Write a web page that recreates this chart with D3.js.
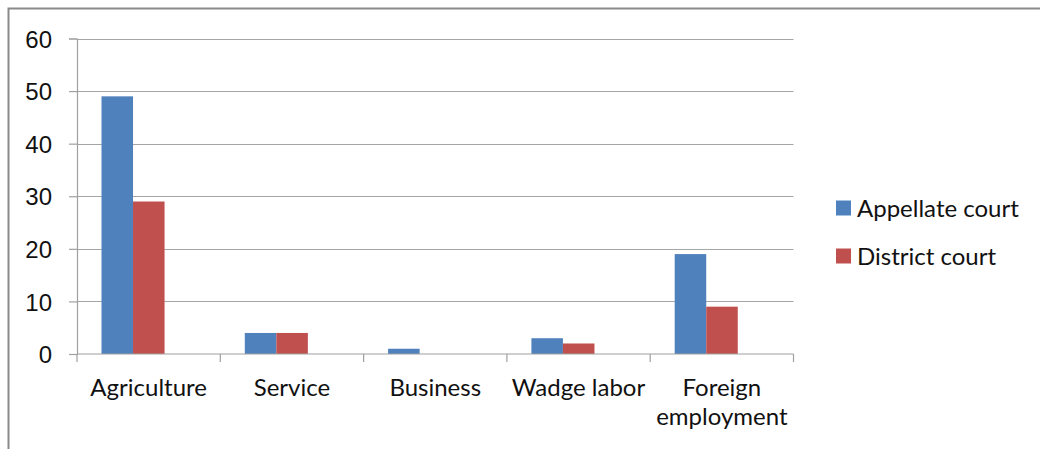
<!DOCTYPE html>
<html>
<head>
<meta charset="utf-8">
<script src="https://cdn.jsdelivr.net/npm/d3@7"></script>
<style>
  html, body { margin: 0; padding: 0; background: #fff; }
  svg { display: block; font-family: Lato, "Open Sans", sans-serif; }
</style>
</head>
<body>
<svg id="chart" width="1040" height="449"></svg>
<script>
// Occupation of respondents by court level
const categories = [["Agriculture"], ["Service"], ["Business"], ["Wadge labor"], ["Foreign", "employment"]];
const seriesNames = ["Appellate court", "District court"];
const appellate = [49, 4, 1, 3, 19];
const district = [29, 4, 0, 2, 9];
const yTicks = [0, 10, 20, 30, 40, 50, 60];
const colors = ["#4f81bd", "#c0504d"];

const svg = d3.select("#chart");
const W = 1040, H = 449;
const plot = { left: 77, right: 793.5, top: 38.5, bottom: 354 };
const FS = 24;

// outer frame (top and left edges visible)
svg.append("path")
  .attr("d", `M8.5,${H} V8.5 H${W}`)
  .attr("fill", "none").attr("stroke", "#8a8a8a").attr("stroke-width", 2);

const x = d3.scaleBand()
  .domain(d3.range(categories.length))
  .range([plot.left, plot.right])
  .paddingInner(0).paddingOuter(0);

// the bar pair sits left of the category centre, as in the source layout
const bw = x.bandwidth();
const inner = d3.scaleBand()
  .domain(d3.range(seriesNames.length))
  .range([bw * 0.171, bw * 0.171 + bw * 0.44])
  .paddingOuter(0).paddingInner(0);

const y = d3.scaleLinear().domain([0, 60]).range([plot.bottom, plot.top]);

// horizontal gridlines
svg.append("g")
  .selectAll("line")
  .data(yTicks.filter(d => d > 0))
  .join("line")
  .attr("x1", plot.left).attr("x2", plot.right)
  .attr("y1", d => Math.round(y(d)) + 0.5).attr("y2", d => Math.round(y(d)) + 0.5)
  .attr("stroke", "#a5a5a5").attr("stroke-width", 1.2);

// bars
const series = [appellate, district];
series.forEach((vals, s) => {
  svg.append("g")
    .selectAll("rect")
    .data(vals)
    .join("rect")
    .attr("x", (d, i) => x(i) + inner(s))
    .attr("width", inner.bandwidth())
    .attr("y", d => y(d))
    .attr("height", d => y(0) - y(d))
    .attr("fill", colors[s]);
});

// y axis
const yAxis = d3.axisLeft(y).tickValues(yTicks).tickSize(8).tickPadding(17);
const gy = svg.append("g").attr("transform", `translate(${plot.left},0)`).call(yAxis);
gy.select(".domain").attr("stroke", "#a0a0a0").attr("stroke-width", 1.2);
gy.selectAll(".tick line").attr("stroke", "#a0a0a0").attr("stroke-width", 1.2);
gy.selectAll(".tick text").attr("font-size", FS).attr("fill", "#111").attr("dy", "0.36em");

// x axis: baseline with ticks at category boundaries
const gx = svg.append("g");
gx.append("line")
  .attr("x1", plot.left).attr("x2", plot.right)
  .attr("y1", plot.bottom).attr("y2", plot.bottom)
  .attr("stroke", "#a0a0a0").attr("stroke-width", 1.2);
gx.selectAll("line.tk")
  .data(d3.range(categories.length + 1))
  .join("line").attr("class", "tk")
  .attr("x1", i => i < categories.length ? x(i) : plot.right)
  .attr("x2", i => i < categories.length ? x(i) : plot.right)
  .attr("y1", plot.bottom).attr("y2", plot.bottom + 8)
  .attr("stroke", "#a0a0a0").attr("stroke-width", 1.2);

const labels = gx.selectAll("text.cat")
  .data(categories)
  .join("text").attr("class", "cat")
  .attr("x", (d, i) => x(i) + x.bandwidth() / 2)
  .attr("y", 396)
  .attr("text-anchor", "middle")
  .attr("font-size", FS).attr("fill", "#111");
labels.selectAll("tspan")
  .data(d => d)
  .join("tspan")
  .attr("x", function () { return this.parentNode.getAttribute("x"); })
  .attr("dy", (d, j) => j === 0 ? 0 : 29)
  .text(d => d);

// legend
const legend = svg.append("g").attr("transform", "translate(836,0)");
seriesNames.forEach((name, s) => {
  const cy = 208 + s * 48;
  legend.append("rect")
    .attr("x", 0).attr("y", cy - 7.5).attr("width", 15).attr("height", 15)
    .attr("fill", colors[s]);
  legend.append("text")
    .attr("x", 21).attr("y", cy).attr("dy", "0.36em")
    .attr("font-size", FS).attr("fill", "#111")
    .text(name);
});
</script>
</body>
</html>
